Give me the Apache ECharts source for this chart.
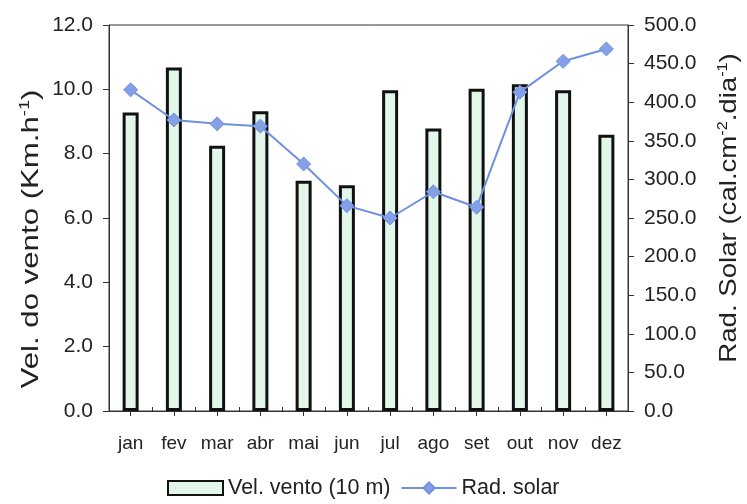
<!DOCTYPE html>
<html><head><meta charset="utf-8">
<script src="https://cdn.jsdelivr.net/npm/echarts@6/dist/echarts.min.js"></script>
<style>html,body{margin:0;padding:0;background:#fff}#c{width:747px;height:504px}</style>
</head><body><div id="c"></div>
<script>
var months = ['jan','fev','mar','abr','mai','jun','jul','ago','set','out','nov','dez'];
var windSpeed = [9.28, 10.68, 8.25, 9.32, 7.16, 7.02, 9.97, 8.78, 10.02, 10.16, 9.97, 8.59];
var solarRad = [416, 377, 372, 369, 320, 266, 250, 284, 264, 413, 453, 469];
var windName = 'Vel. vento (10 m)';
var solarName = 'Rad. solar';
var leftTitle = '{a|Vel. do vento (Km.h}{s|-1}{a|)}';
var rightTitle = '{a|Rad. Solar (cal.cm}{s|-2}{a|.dia}{s|-1}{a|)}';

var F = 'Liberation Sans, Arial, sans-serif';
var richT = {
  a: {fontFamily: F, fontSize: 24, fill: '#222', color: '#222', lineHeight: 26},
  s: {fontFamily: F, fontSize: 14, fill: '#222', color: '#222', verticalAlign: 'top', lineHeight: 26, padding: [0,0,12,0]}
};
var chart = echarts.init(document.getElementById('c'));
chart.setOption({
  animation: false,
  backgroundColor: '#fff',
  textStyle: {fontFamily: F, color: '#222'},
  grid: {left: 109, right: 119, top: 25, bottom: 93, show: true, borderColor: '#333', borderWidth: 1},
  legend: {
    bottom: 0, left: 162, itemWidth: 55, itemHeight: 14, itemGap: 10,
    textStyle: {fontFamily: F, fontSize: 21.5, color: '#222'},
    data: [{name: windName, icon: 'rect'}, {name: solarName}]
  },
  graphic: [{
    type: 'text', x: 31, y: 239, rotation: Math.PI / 2, scaleX: 1.3,
    style: {text: leftTitle, rich: richT, align: 'center', verticalAlign: 'middle', fontFamily: F, fontSize: 24, fill: '#222'}
  }, {
    type: 'text', x: 729, y: 208, rotation: Math.PI / 2, scaleX: 1.15,
    style: {text: rightTitle, rich: richT, align: 'center', verticalAlign: 'middle', fontFamily: F, fontSize: 24, fill: '#222'}
  }],
  xAxis: [{
    type: 'category', data: months, position: 'bottom',
    axisLine: {lineStyle: {color: '#333', width: 1}},
    axisTick: {show: true, alignWithLabel: true, length: 5, lineStyle: {color: '#333'}},
    axisLabel: {fontFamily: F, fontSize: 19, color: '#222', margin: 23, interval: 0}
  }, {
    type: 'category', data: months, position: 'bottom',
    axisLine: {show: false},
    axisTick: {show: true, inside: true, length: 4, lineStyle: {color: '#333'}},
    axisLabel: {show: false}
  }],
  yAxis: [{
    type: 'value', min: 0, max: 12, interval: 2, position: 'left',
    axisLine: {show: true, lineStyle: {color: '#333'}},
    axisTick: {show: true, length: 6, lineStyle: {color: '#333'}},
    axisLabel: {fontFamily: F, fontSize: 21, color: '#222', margin: 16, formatter: function(v){return v.toFixed(1);}},
    splitLine: {show: false}
  }, {
    type: 'value', min: 0, max: 500, interval: 50, position: 'right',
    axisLine: {show: true, lineStyle: {color: '#333'}},
    axisTick: {show: true, length: 6, lineStyle: {color: '#333'}},
    axisLabel: {fontFamily: F, fontSize: 21, color: '#222', margin: 16, formatter: function(v){return v.toFixed(1);}},
    splitLine: {show: false}
  }],
  series: [{
    name: windName, type: 'bar', data: windSpeed, xAxisIndex: 0, yAxisIndex: 0,
    barWidth: 16,
    itemStyle: {color: '#e2f6ea', borderColor: '#111', borderWidth: 3}
  }, {
    name: solarName, type: 'line', data: solarRad, xAxisIndex: 0, yAxisIndex: 1,
    symbol: 'diamond', symbolSize: 14,
    lineStyle: {color: '#6f90dc', width: 2},
    itemStyle: {color: '#84a1e8', borderColor: '#6f90dc', borderWidth: 1}
  }]
});
</script></body></html>
